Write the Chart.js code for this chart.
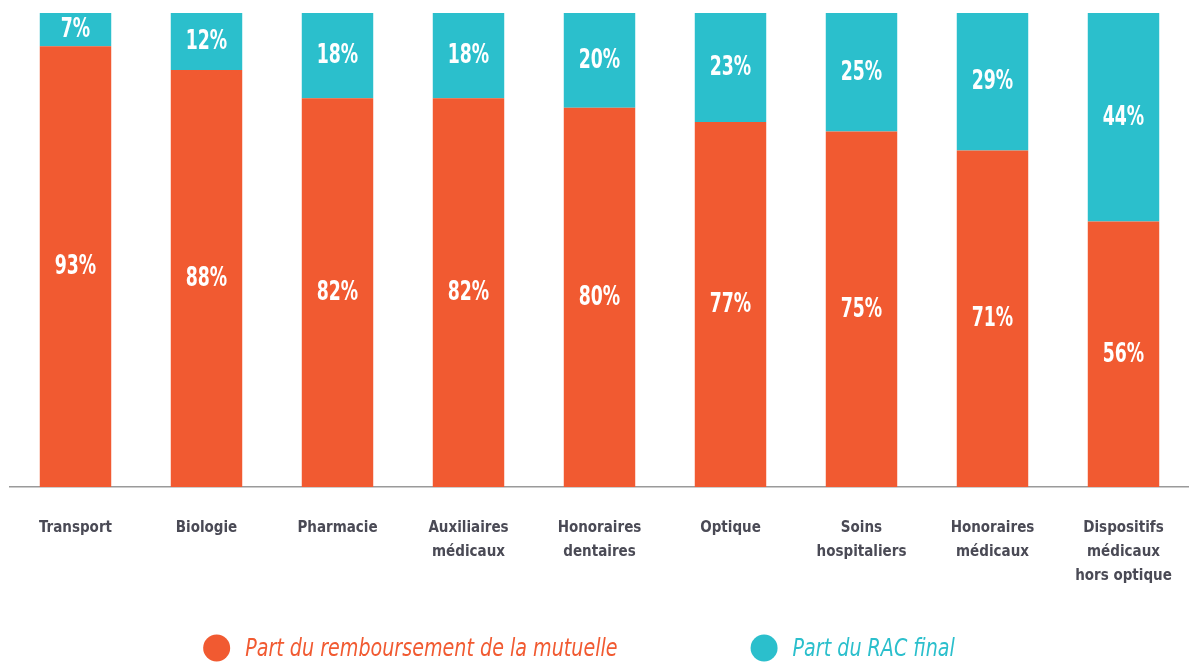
<!DOCTYPE html>
<html>
<head>
<meta charset="utf-8">
<script src="https://cdn.jsdelivr.net/npm/chart.js@4.4.0/dist/chart.umd.min.js"></script>
<style>
  html, body { margin: 0; padding: 0; background: #fff; overflow: hidden; }
  canvas { display: block; }
</style>
</head>
<body>
<canvas id="chart" width="1189" height="662"></canvas>
<script>
// categories (multi-line labels)
const categories = [
  ["Transport"],
  ["Biologie"],
  ["Pharmacie"],
  ["Auxiliaires", "médicaux"],
  ["Honoraires", "dentaires"],
  ["Optique"],
  ["Soins", "hospitaliers"],
  ["Honoraires", "médicaux"],
  ["Dispositifs", "médicaux", "hors optique"]
];

// shares in %
const partMutuelle = [93, 88, 82, 82, 80, 77, 75, 71, 56];
const partRac = [7, 12, 18, 18, 20, 23, 25, 29, 44];

const seriesNames = ["Part du remboursement de la mutuelle", "Part du RAC final"];

const ORANGE = "#f15a31";
const TEAL = "#2bbfcc";
const FONT = "'Liberation Sans Narrow', 'DejaVu Sans Condensed', 'Roboto', sans-serif";

// white % labels in the middle of each segment (squeezed a bit, the original font is narrow)
const valueLabels = {
  id: "valueLabels",
  afterDatasetsDraw(chart) {
    const ctx = chart.ctx;
    const sx = 0.74;
    chart.data.datasets.forEach((ds, i) => {
      chart.getDatasetMeta(i).data.forEach((bar, j) => {
        const { x, y, base } = bar.getProps(["x", "y", "base"], true);
        ctx.save();
        ctx.fillStyle = "#fff";
        ctx.font = "bold 26px " + FONT;
        ctx.textAlign = "center";
        ctx.textBaseline = "middle";
        ctx.translate(x, (y + base) / 2);
        ctx.scale(sx, 1);
        ctx.fillText(ds.data[j] + "%", 0, 1);
        ctx.restore();
      });
    });
  }
};

// legend with round markers and coloured italic text
const roundLegend = {
  id: "roundLegend",
  afterDraw(chart) {
    const ctx = chart.ctx;
    const r = 13.5, gapText = 15, gapItem = 133, sx = 0.85;
    const cy = 648, centerX = 579;
    ctx.save();
    ctx.font = "italic 25px " + FONT;
    ctx.textBaseline = "middle";
    const items = chart.data.datasets.map(ds => {
      const tw = ctx.measureText(ds.label).width * sx;
      return { text: ds.label, color: ds.backgroundColor, tw, w: 2 * r + gapText + tw };
    });
    const total = items.reduce((s, it) => s + it.w, 0) + gapItem * (items.length - 1);
    let x = centerX - total / 2;
    items.forEach(it => {
      ctx.fillStyle = it.color;
      ctx.beginPath();
      ctx.arc(x + r, cy, r, 0, Math.PI * 2);
      ctx.fill();
      ctx.save();
      ctx.translate(x + 2 * r + gapText, cy + 1);
      ctx.scale(sx, 1);
      ctx.fillText(it.text, 0, 0);
      ctx.restore();
      x += it.w + gapItem;
    });
    ctx.restore();
  }
};

new Chart(document.getElementById("chart"), {
  type: "bar",
  data: {
    labels: categories,
    datasets: [
      { label: seriesNames[0], data: partMutuelle, backgroundColor: ORANGE },
      { label: seriesNames[1], data: partRac, backgroundColor: TEAL }
    ]
  },
  options: {
    responsive: false,
    animation: false,
    // the plot runs a little past the right edge, as in the original
    layout: { padding: { top: 13, left: 10, right: -9, bottom: 71 } },
    datasets: {
      bar: { barPercentage: 72 / 132, categoryPercentage: 1, borderWidth: 0 }
    },
    scales: {
      x: {
        stacked: true,
        afterFit: (scale) => { scale.paddingRight = -9; },
        // invisible tick marks, only used to push the labels down
        grid: { display: false, drawTicks: true, tickLength: 26 },
        border: { display: true, color: "#9a9a9a", width: 1.5 },
        ticks: {
          color: "#4a4a55",
          font: { family: FONT, size: 15, weight: "bold", lineHeight: 1.6 },
          padding: 3,
          maxRotation: 0,
          autoSkip: false
        }
      },
      y: {
        stacked: true,
        display: false,
        min: 0,
        max: 100
      }
    },
    plugins: {
      legend: { display: false },
      tooltip: { enabled: false }
    }
  },
  plugins: [valueLabels, roundLegend]
});
</script>
</body>
</html>
